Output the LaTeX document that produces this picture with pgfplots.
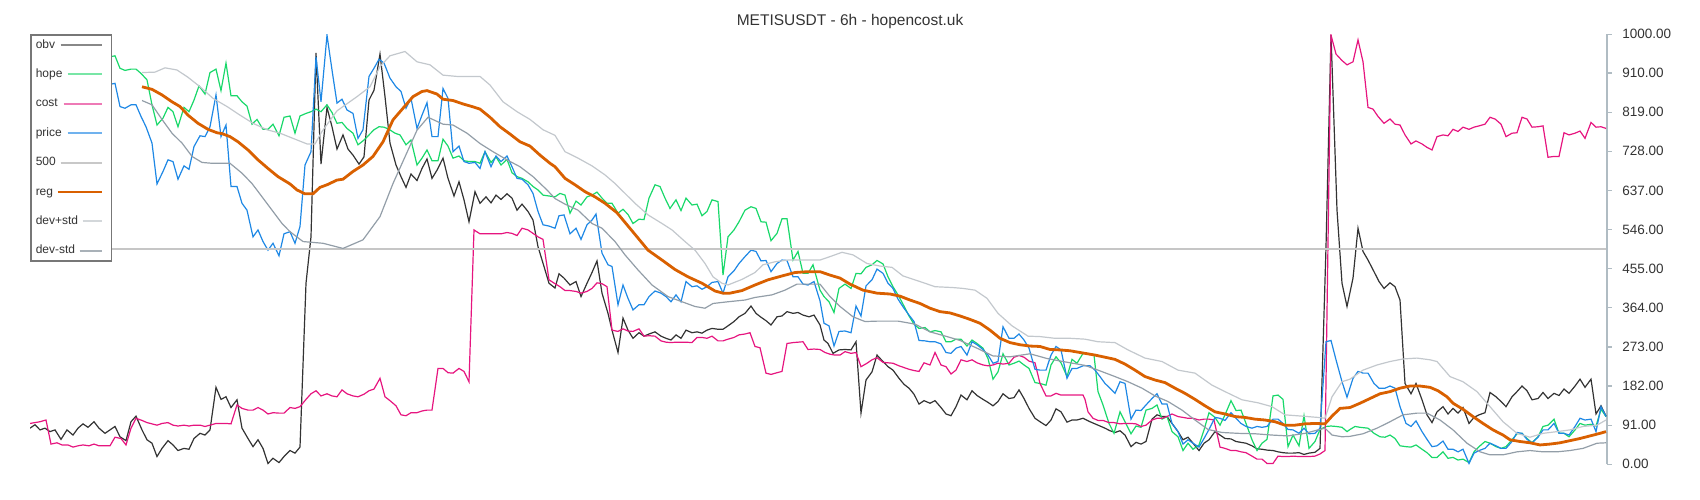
\documentclass[border=0pt]{standalone}
\usepackage{fontspec}
\setmainfont{Liberation Sans}
\usepackage{pgfplots}
\pgfplotsset{compat=1.18}
\definecolor{cobv}{HTML}{333333}
\definecolor{chope}{HTML}{19D86A}
\definecolor{ccost}{HTML}{E6157F}
\definecolor{cprice}{HTML}{1E88E5}
\definecolor{cfive}{HTML}{C6C6C6}
\definecolor{creg}{HTML}{D96000}
\definecolor{cdevp}{HTML}{C3C8CD}
\definecolor{cdevm}{HTML}{939EA8}
\definecolor{caxis}{HTML}{B0BCC3}
\definecolor{ctext}{HTML}{333333}
\definecolor{lobv}{HTML}{888888}
\definecolor{lhope}{HTML}{78E6A6}
\definecolor{lcost}{HTML}{EE7AB6}
\definecolor{lprice}{HTML}{70B2EE}
\definecolor{lfive}{HTML}{C8C8C8}
\definecolor{ldevp}{HTML}{D3D7DA}
\definecolor{ldevm}{HTML}{A9B1B8}
\definecolor{clegbox}{HTML}{777777}
\pgfplotsset{
  legline/.style={legend image code/.code={\draw[##1,overlay] (-#1,0pt) -- (0pt,0pt); \path[draw=none,fill=none] (0pt,-1pt) rectangle (5pt,1pt);}},
}
\begin{document}
\begin{tikzpicture}
\begin{axis}[
  at={(30pt,35.7pt)}, anchor=south west,
  scale only axis, width=1577pt, height=430pt,
  xmin=30, xmax=1607, ymin=0, ymax=1000,
  axis x line=none,
  axis y line*=right,
  y axis line style={draw=caxis, line width=1.5pt},
  ytick={0,91,182,273,364,455,546,637,728,819,910,1000},
  yticklabels={0.00,91.00,182.00,273.00,364.00,455.00,546.00,637.00,728.00,819.00,910.00,1000.00},
  ytick style={draw=caxis, line width=1.2pt},
  tick align=outside, major tick length=4.5pt,
  yticklabel style={font=\fontsize{13.5pt}{16pt}\selectfont, text=ctext, anchor=west, inner sep=0pt, xshift=10.7pt},
  title={METISUSDT - 6h - hopencost.uk},
  title style={at={(0.52,1)}, anchor=base, yshift=2.8pt, inner sep=0pt, font=\fontsize{15.5pt}{18pt}\selectfont, text=ctext},
  legend plot pos=right,
  legend cell align=left,
  legend style={at={(0,1)}, anchor=north west, draw=clegbox, line width=1.5pt, fill=white,
    inner xsep=5pt, inner ysep=4pt, row sep=17.4pt, column sep=23.6pt,
    font=\fontsize{12pt}{14pt}\selectfont, text=ctext,
    nodes={inner sep=0pt, text height=9pt, text depth=3pt}},
]
\addplot[cobv, line width=1.2pt, forget plot] coordinates {(30,84)(35,92)(40,80)(45,84)(50,76)(55,80)(61,58)(67,80)(73,68)(78,84)(83,94)(88,86)(94,99)(99,84)(105,72)(110,80)(115,88)(120,64)(126,55)(131,99)(136,112)(142,80)(147,57)(152,49)(157,18)(162,37)(168,55)(173,45)(178,32)(184,37)(189,35)(194,60)(200,72)(205,68)(210,80)(216,179)(221,151)(226,157)(231,132)(237,150)(242,84)(248,60)(253,41)(258,57)(263,37)(268,2)(273,14)(279,4)(284,18)(290,32)(295,26)(300,40)(306,421)(311,529)(316,957)(321,698)(327,830)(332,785)(337,733)(343,766)(348,733)(353,719)(359,698)(364,715)(369,847)(374,870)(380,954)(385,855)(390,747)(396,696)(401,669)(406,644)(411,675)(417,660)(422,688)(427,710)(432,665)(437,684)(443,712)(448,665)(454,624)(459,657)(464,615)(469,564)(475,634)(480,607)(486,622)(491,608)(496,626)(501,616)(507,629)(512,619)(517,591)(522,605)(528,588)(533,568)(538,506)(544,460)(549,421)(555,410)(559,443)(564,433)(570,417)(576,425)(581,390)(587,421)(592,446)(597,473)(602,398)(608,351)(612,312)(618,260)(623,340)(628,312)(633,293)(639,306)(644,298)(649,303)(655,308)(661,298)(666,293)(671,289)(676,301)(681,293)(686,312)(692,306)(697,308)(702,305)(707,312)(712,316)(718,314)(723,314)(728,322)(734,332)(739,343)(745,351)(751,368)(756,351)(761,342)(766,334)(771,324)(777,343)(782,345)(787,355)(793,351)(798,353)(803,347)(809,343)(814,347)(820,324)(824,289)(828,281)(833,258)(839,266)(845,267)(851,266)(856,285)(861,119)(866,196)(872,215)(877,254)(883,239)(888,227)(893,219)(899,200)(904,186)(909,177)(914,163)(919,140)(924,148)(930,142)(935,148)(941,132)(946,117)(951,113)(956,134)(961,161)(967,150)(972,171)(977,160)(983,151)(988,144)(993,136)(998,146)(1003,164)(1009,153)(1014,155)(1019,173)(1024,153)(1029,130)(1035,107)(1040,99)(1046,90)(1051,103)(1056,129)(1061,122)(1067,98)(1072,103)(1077,103)(1083,107)(1090,99)(1095,94)(1100,89)(1105,84)(1110,78)(1115,74)(1120,78)(1125,68)(1131,41)(1136,51)(1141,47)(1146,53)(1152,105)(1157,115)(1162,111)(1167,111)(1172,95)(1178,76)(1183,57)(1188,63)(1193,49)(1199,32)(1204,49)(1209,57)(1215,76)(1220,68)(1225,60)(1231,59)(1236,53)(1241,51)(1246,49)(1252,43)(1257,36)(1262,35)(1267,33)(1273,32)(1278,29)(1283,27)(1288,26)(1293,26)(1299,27)(1304,23)(1309,26)(1315,28)(1320,37)(1326,506)(1331,998)(1337,591)(1342,421)(1347,367)(1353,433)(1358,549)(1363,495)(1368,475)(1374,448)(1379,425)(1384,409)(1390,422)(1395,413)(1400,382)(1405,188)(1411,164)(1416,188)(1422,150)(1427,115)(1432,97)(1437,122)(1443,134)(1448,117)(1453,130)(1458,119)(1463,132)(1469,95)(1474,109)(1479,115)(1485,120)(1490,167)(1496,157)(1501,146)(1506,134)(1512,157)(1517,169)(1522,182)(1527,171)(1532,150)(1538,153)(1543,167)(1548,153)(1554,165)(1559,160)(1564,175)(1569,165)(1575,182)(1580,198)(1585,179)(1591,198)(1596,117)(1601,136)(1606,112)};
\addplot[chope, line width=1.2pt, forget plot] coordinates {(104,948)(111,948)(115,950)(120,921)(125,916)(131,919)(136,919)(141,909)(147,894)(152,836)(157,789)(163,805)(168,830)(173,820)(178,785)(184,830)(189,820)(194,847)(199,880)(205,861)(210,911)(216,919)(221,869)(226,933)(231,857)(237,857)(242,843)(247,833)(252,791)(257,802)(263,779)(268,779)(273,791)(279,764)(284,807)(290,810)(295,770)(300,810)(306,816)(311,820)(316,826)(321,820)(327,836)(332,818)(337,793)(342,795)(347,781)(353,770)(358,743)(364,754)(369,766)(374,778)(379,785)(384,784)(389,779)(395,770)(400,766)(406,743)(411,754)(417,696)(422,712)(427,731)(432,706)(438,706)(443,756)(448,740)(453,712)(459,717)(464,706)(469,704)(475,704)(480,700)(485,727)(491,702)(496,715)(501,696)(507,709)(512,678)(517,669)(522,665)(528,657)(533,646)(538,638)(543,626)(549,624)(555,622)(560,630)(565,626)(570,584)(576,612)(581,603)(587,622)(592,626)(597,633)(602,619)(607,607)(612,607)(618,584)(623,593)(628,581)(633,560)(639,570)(644,569)(649,619)(655,650)(660,646)(665,619)(670,595)(676,615)(681,590)(686,619)(692,603)(697,605)(702,578)(707,588)(712,615)(718,611)(723,440)(728,529)(734,545)(739,564)(745,591)(751,599)(756,595)(761,564)(766,563)(771,520)(777,537)(782,571)(787,571)(793,475)(798,495)(803,444)(808,444)(813,464)(820,405)(824,390)(829,378)(834,353)(839,409)(845,419)(851,409)(856,444)(861,443)(866,458)(872,464)(877,474)(883,466)(888,436)(893,413)(899,390)(904,368)(909,345)(914,326)(919,316)(925,318)(930,308)(935,311)(941,308)(946,285)(951,285)(956,291)(961,291)(967,275)(972,289)(977,281)(983,270)(988,246)(993,198)(998,215)(1003,257)(1009,231)(1014,235)(1019,240)(1024,231)(1029,223)(1035,190)(1040,188)(1046,184)(1051,231)(1056,250)(1061,236)(1067,204)(1072,244)(1077,235)(1083,258)(1090,257)(1094,254)(1098,169)(1103,138)(1109,95)(1114,72)(1120,122)(1125,99)(1131,71)(1136,89)(1141,86)(1146,126)(1152,130)(1157,138)(1162,105)(1167,111)(1172,76)(1178,64)(1183,32)(1188,49)(1193,35)(1199,45)(1204,80)(1209,120)(1215,109)(1220,91)(1225,115)(1231,148)(1236,125)(1241,126)(1246,95)(1252,57)(1257,32)(1262,49)(1267,58)(1273,159)(1278,161)(1283,151)(1288,41)(1293,68)(1299,43)(1304,113)(1309,37)(1315,53)(1320,81)(1326,88)(1331,89)(1336,88)(1342,86)(1347,76)(1350,81)(1355,88)(1360,86)(1368,84)(1374,72)(1380,64)(1385,63)(1390,68)(1395,60)(1400,43)(1406,41)(1411,40)(1416,45)(1422,35)(1427,27)(1432,16)(1437,16)(1443,29)(1448,14)(1453,16)(1458,10)(1463,12)(1469,4)(1474,29)(1479,41)(1485,53)(1490,49)(1496,41)(1501,37)(1506,41)(1512,57)(1517,71)(1522,72)(1527,60)(1532,50)(1538,64)(1543,88)(1548,91)(1554,105)(1559,72)(1564,72)(1569,64)(1575,80)(1580,95)(1585,91)(1591,93)(1596,89)(1601,128)(1606,111)};
\addplot[ccost, line width=1.2pt, forget plot] coordinates {(30,95)(35,97)(40,99)(46,103)(51,47)(57,50)(62,45)(68,45)(73,40)(78,43)(83,45)(89,43)(94,47)(99,43)(105,43)(110,43)(115,63)(121,60)(126,45)(131,84)(136,107)(142,102)(147,97)(152,94)(157,91)(162,95)(168,97)(173,91)(178,89)(184,91)(189,89)(194,91)(200,91)(205,88)(210,91)(216,95)(221,95)(226,95)(231,94)(237,138)(242,130)(248,126)(253,126)(258,132)(263,126)(268,117)(273,120)(279,119)(284,119)(290,132)(295,130)(300,134)(306,151)(311,164)(316,171)(321,159)(327,164)(332,159)(337,157)(342,173)(347,164)(353,159)(358,157)(364,163)(369,171)(374,175)(380,200)(385,157)(390,148)(396,136)(401,115)(406,113)(411,120)(417,120)(422,124)(427,126)(432,126)(438,223)(443,223)(448,213)(453,212)(459,223)(464,216)(469,192)(474,545)(480,536)(486,536)(491,536)(496,536)(501,536)(507,539)(512,537)(517,532)(522,549)(528,545)(533,537)(538,529)(543,523)(549,429)(555,420)(560,413)(565,404)(570,404)(576,402)(581,398)(587,402)(592,409)(597,422)(602,420)(607,413)(612,312)(618,309)(623,315)(628,310)(633,309)(639,315)(644,298)(649,299)(655,298)(661,287)(666,284)(671,283)(676,284)(681,284)(686,284)(692,283)(697,295)(702,295)(707,293)(712,298)(718,287)(723,287)(728,291)(734,295)(739,301)(745,303)(750,306)(755,274)(760,271)(766,212)(771,209)(777,213)(782,216)(787,281)(793,283)(798,284)(803,285)(808,267)(814,268)(820,267)(825,260)(830,256)(835,254)(840,254)(845,262)(851,258)(856,260)(861,227)(867,235)(872,243)(877,248)(883,237)(888,236)(893,235)(899,229)(904,225)(909,221)(914,218)(919,216)(924,236)(930,231)(935,260)(941,231)(946,227)(951,210)(956,219)(961,243)(967,239)(972,243)(977,236)(983,231)(988,229)(993,231)(998,235)(1003,233)(1009,235)(1014,249)(1019,253)(1024,249)(1029,240)(1035,236)(1040,188)(1046,159)(1051,159)(1056,165)(1061,161)(1067,161)(1072,161)(1077,161)(1083,161)(1085,151)(1088,122)(1093,107)(1098,102)(1103,102)(1109,97)(1114,97)(1120,94)(1125,95)(1131,95)(1136,94)(1141,88)(1146,91)(1152,103)(1157,107)(1162,107)(1167,111)(1172,117)(1178,111)(1183,109)(1188,107)(1193,107)(1199,103)(1204,105)(1209,105)(1214,103)(1220,40)(1225,37)(1231,32)(1236,32)(1241,29)(1246,27)(1252,19)(1257,12)(1262,12)(1267,2)(1273,2)(1278,19)(1283,18)(1288,18)(1293,19)(1299,18)(1304,18)(1309,18)(1315,19)(1320,24)(1325,32)(1331,998)(1336,954)(1342,939)(1347,929)(1353,936)(1358,987)(1363,936)(1368,830)(1373,826)(1378,809)(1384,793)(1390,803)(1395,791)(1400,789)(1405,766)(1411,745)(1416,752)(1422,745)(1427,737)(1432,731)(1437,762)(1443,766)(1448,764)(1453,779)(1458,774)(1463,784)(1469,779)(1474,784)(1479,787)(1485,791)(1490,807)(1495,803)(1501,791)(1506,762)(1512,770)(1517,771)(1522,807)(1527,803)(1532,784)(1538,785)(1543,787)(1548,714)(1554,716)(1559,716)(1564,771)(1569,766)(1575,770)(1580,775)(1585,758)(1591,795)(1596,784)(1601,785)(1606,781)};
\addplot[cprice, line width=1.2pt, forget plot] coordinates {(104,884)(111,884)(115,886)(120,832)(125,828)(131,836)(136,836)(141,809)(146,785)(152,747)(157,652)(163,681)(168,708)(173,704)(178,663)(184,694)(189,686)(194,739)(200,764)(205,762)(210,785)(216,859)(221,762)(226,789)(231,646)(237,646)(242,607)(247,591)(253,529)(258,545)(263,518)(268,498)(273,514)(279,485)(284,536)(290,541)(295,514)(300,553)(305,696)(311,727)(316,948)(321,843)(327,998)(332,917)(337,840)(342,849)(347,824)(353,816)(358,758)(363,778)(369,902)(374,921)(379,942)(384,933)(390,898)(396,878)(401,867)(406,828)(411,851)(417,781)(422,812)(427,841)(432,762)(438,762)(443,874)(448,851)(453,727)(459,740)(464,704)(469,700)(475,702)(480,688)(485,727)(491,692)(496,717)(501,704)(507,717)(512,692)(517,665)(522,663)(528,650)(533,630)(538,588)(543,557)(549,554)(555,549)(559,578)(564,580)(570,536)(576,549)(581,523)(587,557)(592,568)(596,582)(602,491)(608,464)(612,460)(618,371)(623,417)(628,386)(633,359)(639,371)(644,371)(649,390)(655,403)(661,398)(666,390)(671,378)(676,394)(681,378)(686,425)(692,413)(697,415)(702,407)(707,413)(712,423)(718,425)(723,398)(728,436)(734,450)(739,467)(745,483)(751,498)(756,495)(761,473)(766,474)(771,448)(777,467)(782,475)(787,474)(793,436)(798,436)(803,419)(808,417)(814,425)(820,380)(824,328)(829,322)(834,275)(839,309)(845,310)(851,306)(856,368)(861,345)(866,415)(872,429)(877,454)(883,444)(888,421)(893,409)(898,384)(904,363)(909,347)(914,332)(919,288)(925,287)(930,285)(935,285)(941,280)(946,260)(951,258)(956,270)(961,274)(967,254)(972,285)(977,278)(983,267)(988,254)(993,235)(998,239)(1003,320)(1009,293)(1014,293)(1019,303)(1024,289)(1029,270)(1035,221)(1040,219)(1046,219)(1051,254)(1056,274)(1061,266)(1067,200)(1072,223)(1077,223)(1083,229)(1090,229)(1095,219)(1100,204)(1105,188)(1110,177)(1115,165)(1120,192)(1125,188)(1131,105)(1136,126)(1141,125)(1146,138)(1152,153)(1157,164)(1162,140)(1167,140)(1172,95)(1178,76)(1183,47)(1188,57)(1193,49)(1199,40)(1204,60)(1209,81)(1215,109)(1220,107)(1225,102)(1231,120)(1236,107)(1241,95)(1246,88)(1252,84)(1257,88)(1262,86)(1267,88)(1273,105)(1278,105)(1283,95)(1288,81)(1293,80)(1299,72)(1304,84)(1309,71)(1315,72)(1320,84)(1326,285)(1331,288)(1336,243)(1342,192)(1347,156)(1353,200)(1358,216)(1363,212)(1368,212)(1374,188)(1379,177)(1385,177)(1390,182)(1395,177)(1400,134)(1406,95)(1411,88)(1416,101)(1422,76)(1427,58)(1432,41)(1437,43)(1443,54)(1448,35)(1453,35)(1458,29)(1463,35)(1469,2)(1474,26)(1479,32)(1485,37)(1490,49)(1496,43)(1501,37)(1506,37)(1512,53)(1517,74)(1522,72)(1527,58)(1532,50)(1538,63)(1543,80)(1548,80)(1554,95)(1559,72)(1564,72)(1569,68)(1575,88)(1580,107)(1585,103)(1591,105)(1596,76)(1601,134)(1606,111)};
\addplot[cfive, line width=2pt, forget plot] coordinates {(30,500)(1606,500)};
\addplot[creg, line width=2.8pt, forget plot] coordinates {(142,878)(152,872)(162,859)(172,843)(180,832)(188,812)(198,793)(208,779)(217,771)(222,769)(230,762)(238,750)(248,731)(258,708)(268,688)(278,669)(290,652)(297,638)(305,629)(313,629)(320,644)(327,650)(337,661)(343,663)(353,681)(363,696)(373,716)(383,750)(393,801)(403,828)(413,855)(422,867)(427,869)(437,861)(443,849)(453,846)(463,838)(472,832)(480,826)(490,807)(500,785)(510,768)(520,750)(530,740)(540,719)(550,700)(555,692)(565,665)(575,650)(585,634)(595,622)(605,607)(617,585)(627,557)(637,529)(648,498)(662,475)(675,453)(688,436)(702,421)(715,403)(723,398)(730,398)(742,404)(755,417)(768,429)(782,438)(795,446)(808,448)(820,448)(830,440)(840,433)(850,419)(863,405)(877,398)(890,396)(900,391)(910,382)(920,374)(930,363)(940,355)(950,352)(960,345)(970,337)(980,328)(990,312)(1000,293)(1010,283)(1020,278)(1030,275)(1040,274)(1050,267)(1060,266)(1070,264)(1080,260)(1085,258)(1095,254)(1105,249)(1115,244)(1125,233)(1135,219)(1145,204)(1155,196)(1165,190)(1175,177)(1185,165)(1195,151)(1205,136)(1215,122)(1225,117)(1235,111)(1245,109)(1255,105)(1265,103)(1275,99)(1285,91)(1295,91)(1305,94)(1315,95)(1325,94)(1332,112)(1340,130)(1350,132)(1360,142)(1370,153)(1380,164)(1390,169)(1400,177)(1410,182)(1420,182)(1430,179)(1438,171)(1447,157)(1453,142)(1463,128)(1473,111)(1483,95)(1493,80)(1503,68)(1510,57)(1520,53)(1530,50)(1540,45)(1550,47)(1560,50)(1570,55)(1580,60)(1590,66)(1600,72)(1606,76)};
\addplot[cdevp, line width=1.2pt, forget plot] coordinates {(142,911)(155,912)(165,922)(177,917)(188,900)(200,878)(213,851)(227,832)(240,812)(253,793)(267,778)(280,770)(293,758)(307,745)(315,745)(322,774)(337,822)(357,855)(370,878)(380,925)(390,950)(405,960)(417,936)(430,929)(443,905)(457,902)(480,902)(490,882)(503,843)(517,820)(530,802)(543,778)(555,765)(565,727)(578,712)(592,694)(605,673)(615,653)(625,630)(635,607)(648,580)(662,560)(672,545)(685,518)(695,498)(705,467)(713,436)(722,421)(728,417)(742,430)(755,446)(763,464)(775,471)(788,475)(808,475)(820,475)(830,483)(842,493)(853,487)(867,467)(880,461)(892,458)(903,438)(920,425)(935,413)(953,411)(963,409)(975,405)(987,386)(998,351)(1012,322)(1028,298)(1040,297)(1055,293)(1070,293)(1085,291)(1098,285)(1115,283)(1128,266)(1145,247)(1162,239)(1178,219)(1195,212)(1212,184)(1225,169)(1242,150)(1258,143)(1272,134)(1285,115)(1302,112)(1318,109)(1325,107)(1332,157)(1342,192)(1350,198)(1363,219)(1377,231)(1390,239)(1403,245)(1417,247)(1430,243)(1437,239)(1450,204)(1463,192)(1477,169)(1490,134)(1503,99)(1517,72)(1530,63)(1543,72)(1557,76)(1570,80)(1583,88)(1597,91)(1606,103)};
\addplot[cdevm, line width=1.2pt, forget plot] coordinates {(142,846)(152,836)(162,802)(172,770)(182,747)(192,716)(202,702)(212,700)(225,700)(230,700)(242,677)(252,653)(262,622)(272,591)(282,560)(290,541)(303,518)(323,514)(343,502)(363,522)(380,576)(393,653)(405,715)(417,777)(428,807)(443,791)(453,789)(467,770)(480,746)(493,727)(507,708)(520,692)(533,669)(547,638)(555,618)(565,605)(578,591)(592,560)(602,549)(615,518)(625,487)(638,452)(652,417)(668,390)(682,378)(695,367)(705,363)(713,374)(728,378)(745,382)(755,388)(772,394)(785,405)(797,419)(808,419)(820,419)(830,390)(840,367)(853,343)(865,332)(878,333)(898,333)(915,326)(930,308)(947,297)(960,288)(977,270)(993,252)(1010,250)(1030,257)(1047,246)(1063,239)(1085,230)(1098,219)(1115,204)(1128,192)(1142,177)(1155,159)(1168,146)(1182,126)(1195,103)(1208,81)(1222,74)(1238,72)(1255,71)(1272,68)(1288,66)(1305,72)(1318,80)(1325,84)(1332,68)(1342,64)(1350,65)(1363,71)(1377,84)(1390,99)(1403,115)(1417,119)(1427,119)(1440,103)(1453,80)(1467,49)(1480,29)(1490,22)(1503,22)(1517,29)(1530,32)(1543,29)(1557,29)(1570,32)(1583,37)(1597,49)(1606,50)};
\addlegendimage{lobv, line width=2pt, legline=41pt}
\addlegendentry{obv}
\addlegendimage{lhope, line width=2pt, legline=34pt}
\addlegendentry{hope}
\addlegendimage{lcost, line width=2pt, legline=38pt}
\addlegendentry{cost}
\addlegendimage{lprice, line width=2pt, legline=34pt}
\addlegendentry{price}
\addlegendimage{lfive, line width=2pt, legline=41pt}
\addlegendentry{500}
\addlegendimage{creg, line width=2.8pt, legline=44pt}
\addlegendentry{reg}
\addlegendimage{ldevp, line width=2pt, legline=19pt}
\addlegendentry{dev+std}
\addlegendimage{ldevm, line width=2pt, legline=22pt}
\addlegendentry{dev-std}
\end{axis}
\pgfresetboundingbox
\useasboundingbox (0pt,0pt) rectangle (1700pt,500pt);
\end{tikzpicture}
\end{document}
